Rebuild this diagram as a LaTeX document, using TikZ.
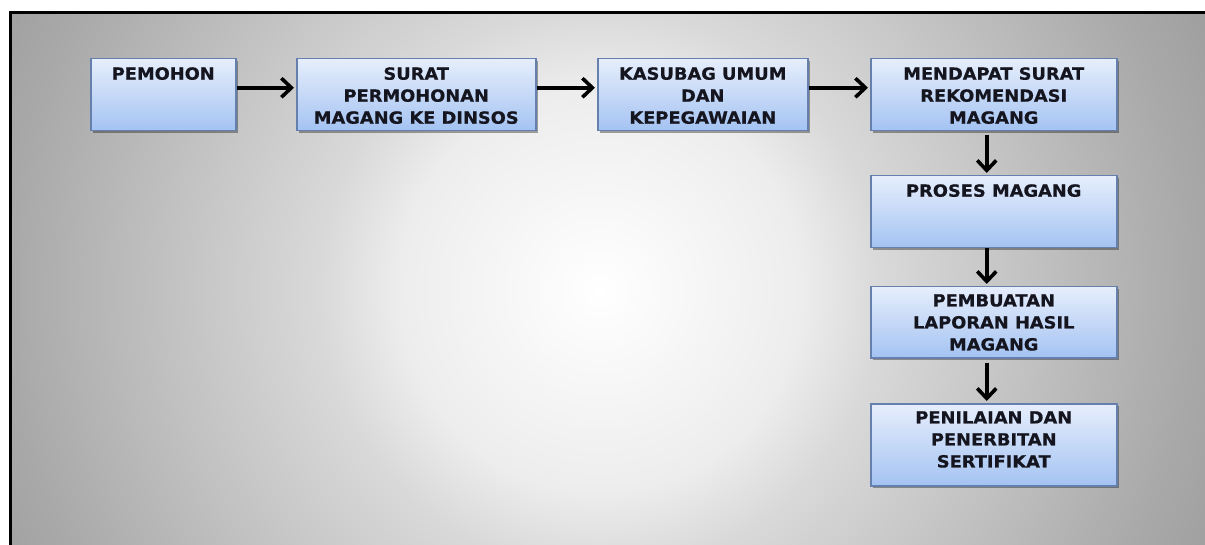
\documentclass[tikz,border=0pt]{standalone}
\usepackage{fontspec}
\newfontfamily\boxfont{DejaVu Sans}[FakeStretch=1.06,BoldFeatures={FakeBold=0.6}]
\usetikzlibrary{arrows.meta,shadows}
\definecolor{bgA}{HTML}{FFFFFF}
\definecolor{bgB}{HTML}{EDEDED}
\definecolor{bgC}{HTML}{D9D9D9}
\definecolor{bgD}{HTML}{A9A9A9}
\definecolor{bgE}{HTML}{A0A0A0}
\definecolor{boxtop}{HTML}{E6EEFC}
\definecolor{boxbot}{HTML}{A4C3F2}
\definecolor{boxline}{HTML}{6680AE}
\definecolor{txt}{HTML}{15151F}
\pgfdeclareradialshading{bgshade}{\pgfpoint{0bp}{0bp}}{color(0bp)=(bgA); color(7.6bp)=(bgB); color(10.6bp)=(bgC); color(22.3bp)=(bgD); color(25bp)=(bgE); color(50bp)=(bgE)}
\newcommand\bt[4]{\parbox[c][#2pt][t]{#1pt}{\centering\vspace*{#3pt}#4}}
\tikzset{
  box/.style={draw=boxline, line width=1.5pt, top color=boxtop, bottom color=boxbot,
    inner sep=0pt, anchor=north west, text=txt,
    font=\boxfont\bfseries\fontsize{16.8}{22}\selectfont,
    drop shadow={shadow xshift=2pt, shadow yshift=-2pt, opacity=0.35, fill=black}},
  arr/.style={line width=3.6pt, -{Straight Barb[length=10pt,width=19pt]}, black}
}
\begin{document}
\begin{tikzpicture}[x=1pt,y=-1pt]
\useasboundingbox (0,0) rectangle (1205,545);
\fill[white] (0,0) rectangle (1205,545);
\begin{scope}
  \clip (9.5,12) rectangle (1205,545);
  \fill[bgE] (9.5,12) rectangle (1205,545);
  \shade[shading=bgshade] (600,290) circle[radius=660];
\end{scope}
\draw[line width=3pt] (10,545) -- (10,12.5) -- (1205,12.5);

\node[box] (pem) at (90,58)  {\bt{145}{72}{8.5}{PEMOHON}};
\node[box] (sur) at (296,58) {\bt{239}{72}{8.5}{SURAT\\PERMOHONAN\\MAGANG KE DINSOS}};
\node[box] (kas) at (597,58) {\bt{210}{72}{8.5}{KASUBAG UMUM\\DAN\\KEPEGAWAIAN}};
\node[box] (men) at (870,58) {\bt{246}{72}{8.5}{MENDAPAT SURAT\\REKOMENDASI\\MAGANG}};
\node[box] (pro) at (870,175) {\bt{246}{72}{8.5}{PROSES MAGANG}};
\node[box] (pbt) at (870,286) {\bt{246}{71}{7.5}{PEMBUATAN\\LAPORAN HASIL\\MAGANG}};
\node[box] (pen) at (870,403) {\bt{246}{82}{7.5}{PENILAIAN DAN\\PENERBITAN\\SERTIFIKAT}};

\draw[arr] ([yshift=7pt]pem.east) -- ([yshift=7pt,xshift=-2pt]sur.west);
\draw[arr] ([yshift=7pt]sur.east) -- ([yshift=7pt,xshift=-2pt]kas.west);
\draw[arr] ([yshift=7pt]kas.east) -- ([yshift=7pt,xshift=-2pt]men.west);
\draw[arr] ([xshift=-7pt,yshift=-4pt]men.south) -- ([xshift=-7pt,yshift=2pt]pro.north);
\draw[arr] ([xshift=-7pt]pro.south) -- ([xshift=-7pt,yshift=2pt]pbt.north);
\draw[arr] ([xshift=-7pt,yshift=-4pt]pbt.south) -- ([xshift=-7pt,yshift=2pt]pen.north);
\end{tikzpicture}
\end{document}
